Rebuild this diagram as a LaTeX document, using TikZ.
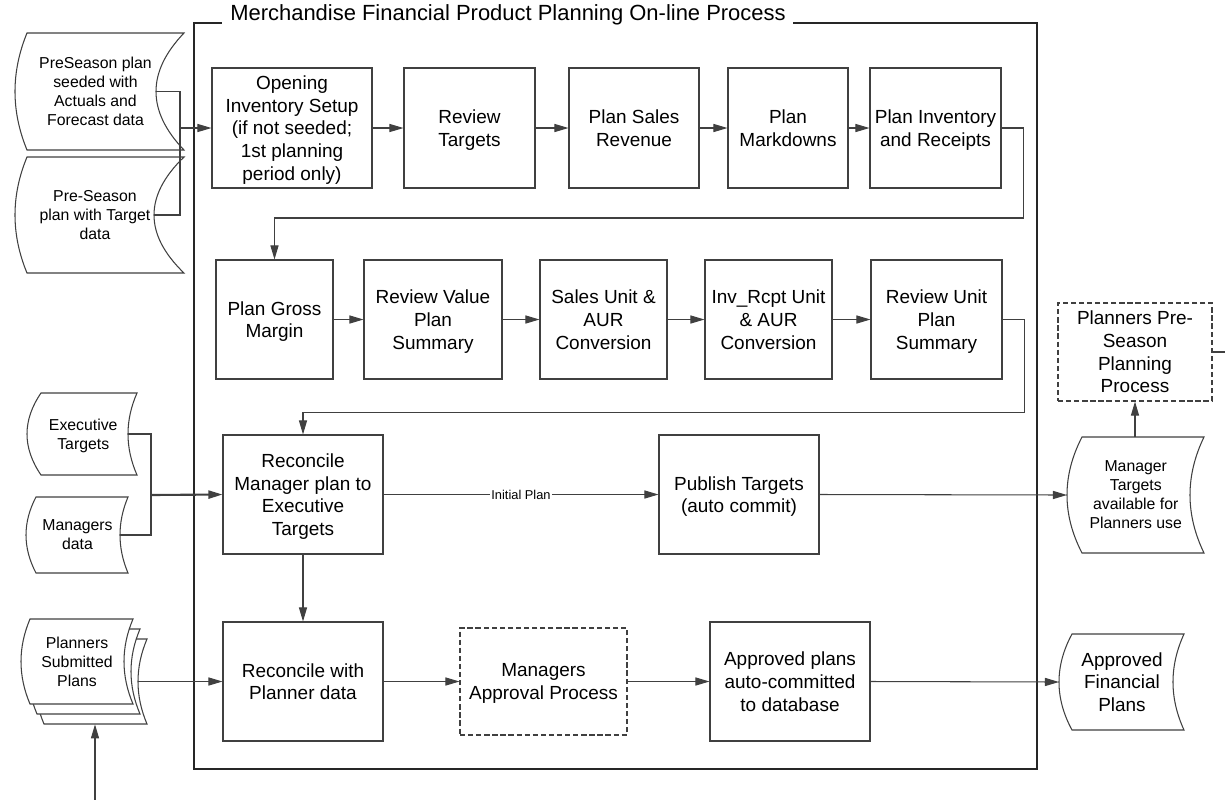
\documentclass[tikz,border=0pt]{standalone}
\usepackage{fontspec}
\setmainfont{Liberation Sans}
\usetikzlibrary{arrows.meta,calc}

% process box: [style] name, x1, y1, x2, y2, text
\newcommand\procbox[7][proc]{%
  \node[#1, minimum width={(#5-#3)*0.02cm}, minimum height={(#6-#4)*0.02cm}]
    (#2) at ({(#3+#5)/2},{(#4+#6)/2}) {#7};
}

% stored-data shape: [node options] name, x1, y1, x2, y2, left bulge, right bulge, text
\newcommand\datashape[9][]{%
  \draw[datab] (#3,#4) -- (#5,#4)
    .. controls ({#5-1.333*#8},{#4+(#6-#4)/3}) and ({#5-1.333*#8},{#6-(#6-#4)/3}) .. (#5,#6)
    -- (#3,#6)
    .. controls ({#3-1.333*#7},{#6-(#6-#4)/3}) and ({#3-1.333*#7},{#4+(#6-#4)/3}) .. cycle;
  \node[dtext, minimum width={(#5-#3-#8/2+#7/2)*0.02cm}, minimum height={(#6-#4)*0.02cm}, #1]
    (#2) at ({(#3+#5)/2-(#7+#8)/4},{(#4+#6)/2}) {#9};
  \coordinate (#2-l) at ({#3-#7},{(#4+#6)/2});
  \coordinate (#2-r) at ({#5-#8},{(#4+#6)/2});
}

\begin{document}
\begin{tikzpicture}[x=0.02cm,y=-0.02cm,
  line/.style={draw=black!75, line width=0.6pt},
  arr/.style={line, -{Triangle[length=8pt,width=4.6pt]}},
  frame/.style={draw=black!85, line width=0.7pt},
  bigfont/.style={font=\fontsize{10.8}{12.9}\selectfont},
  proc/.style={line, rectangle, inner sep=0pt, align=center, text depth=0pt, bigfont},
  dproc/.style={proc, dash pattern=on 3pt off 1.6pt},
  datab/.style={line, fill=white},
  dtext/.style={inner sep=0pt, align=center, text depth=0pt, font=\fontsize{9}{10.8}\selectfont},
  lbl/.style={fill=white, inner sep=1pt, font=\fontsize{7.3}{8.5}\selectfont},
  ttl/.style={inner sep=0pt, font=\fontsize{12.5}{14}\selectfont}
]
\useasboundingbox (0,0) rectangle (1225,799);

% outer process frame with its title
\node[ttl] (ttl) at (508,15) {Merchandise Financial Product Planning On-line Process};
\coordinate (ftl) at (194,23);
\coordinate (fbr) at (1037,769);
\draw[frame] ($(ttl.west|-ftl)+(-8,0)$) -- (ftl) -- (ftl|-fbr) -- (fbr) -- (fbr|-ftl)
  -- ($(ttl.east|-ftl)+(7,0)$);

% row 1
\procbox{b1}{212}{68}{372}{188}{Opening\\Inventory Setup\\(if not seeded;\\1st planning\\period only)}
\procbox{b2}{404}{68}{535}{188}{Review\\Targets}
\procbox{b3}{569}{68}{699}{188}{Plan Sales\\Revenue}
\procbox{b4}{728}{68}{848}{188}{Plan\\Markdowns}
\procbox{b5}{870}{68}{1001}{188}{Plan Inventory\\and Receipts}

% row 2
\procbox{c1}{216}{260}{333}{379}{Plan Gross\\Margin}
\procbox{c2}{364}{260}{502}{379}{Review Value\\Plan\\Summary}
\procbox{c3}{540}{260}{667}{379}{Sales Unit \&\\AUR\\Conversion}
\procbox{c4}{705}{260}{832}{379}{Inv\_Rcpt Unit\\\& AUR\\Conversion}
\procbox{c5}{871}{260}{1002}{379}{Review Unit\\Plan\\Summary}

% row 3
\procbox{r1}{223}{435}{383}{554}{Reconcile\\Manager plan to\\Executive\\Targets}
\procbox{pub}{659}{435}{819}{554}{Publish Targets\\(auto commit)}

% row 4
\procbox{r2}{223}{622}{383}{741}{Reconcile with\\Planner data}
\procbox[dproc]{ma}{460}{628}{627}{735}{Managers\\Approval Process}
\procbox{ap}{710}{622}{870}{741}{Approved plans\\auto-committed\\to database}

% right-hand side
\procbox[dproc]{pp}{1058}{303}{1212}{401}{Planners Pre-\\Season\\Planning\\Process}

% stored data
\datashape{dA}{27}{33}{184}{150}{12}{28}{PreSeason plan\\seeded with\\Actuals and\\Forecast data}
\datashape{dB}{27}{157}{184}{273}{12}{30}{Pre-Season\\plan with Target\\data}
\datashape{dC}{41}{393}{137}{475}{14}{9}{Executive\\Targets}
\datashape{dD}{36}{497}{128}{573}{10}{8}{Managers\\data}
\datashape{dE3}{44}{639}{147}{724}{9}{9}{}
\datashape{dE2}{37}{629}{140}{714}{9}{9}{}
\datashape{dE}{30}{619}{133}{704}{9}{9}{Planners\\Submitted\\Plans}
\datashape{dMT}{1082}{437}{1204}{553}{15}{14}{Manager\\Targets\\available for\\Planners use}
\datashape[bigfont]{dAF}{1072}{634}{1184}{730}{13}{11}{Approved\\Financial\\Plans}

% inputs to the first step
\coordinate (jA) at (180,128);
\draw[line] (dA-r) -| (jA);
\draw[line] (dB-r) -| (jA);
\draw[arr] (jA) -- (b1.west);

% row 1 flow
\draw[arr] (b1) -- (b2);
\draw[arr] (b2) -- (b3);
\draw[arr] (b3) -- (b4);
\draw[arr] (b4) -- (b5);
\draw[arr] (b5.east) -- ++(22,0) -- ++(0,90) -| (c1.north);

% row 2 flow
\draw[arr] (c1) -- (c2);
\draw[arr] (c2) -- (c3);
\draw[arr] (c3) -- (c4);
\draw[arr] (c4) -- (c5);
\draw[arr] (c5.east) -- ++(22,0) -- ++(0,93) -| (r1.north);

% executive and manager inputs
\coordinate (jB) at (151,495);
\draw[line] (dC-r) -| (jB);
\draw[line] (dD-r) -| (jB);
\draw[arr, line width=1.2pt] (jB) -- (r1.west);

% row 3 flow
\draw[arr] (r1.east) -- node[lbl] {Initial Plan} (pub.west);
\draw[arr] (pub.east) -- (dMT-l);
\draw[arr] (pp.south |- dMT.north) -- (pp.south);
\coordinate (ppout) at (1228,352);
\draw[line] (pp.east) -- (ppout);
\draw[arr] (r1.south) -- (r2.north);

% row 4 flow
\coordinate (pin) at (95,801);
\draw[arr] (pin) -- (pin |- dE3.south);
\draw[arr] (dE3-r) -- (r2.west);
\draw[arr] (r2) -- (ma);
\draw[arr] (ma) -- (ap);
\draw[arr] (ap.east) -- (dAF-l);

\end{tikzpicture}
\end{document}
